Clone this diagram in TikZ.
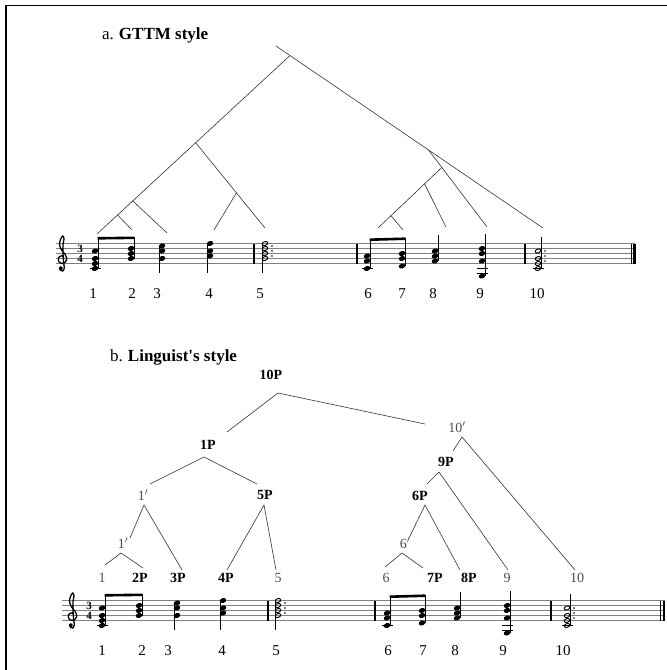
\documentclass[tikz,border=0pt]{standalone}
\usepackage{fontspec}
\setmainfont{Liberation Serif}
\usetikzlibrary{calc}
\tikzset{
  treeline/.style={line width=0.6pt, draw=black!80},
  staffline/.style={line width=0.7pt, draw=black!50},
  stemline/.style={line width=0.8pt},
  barline/.style={line width=1.1pt},
  ledger/.style={line width=0.7pt},
  blab/.style={inner sep=0pt, font=\fontsize{14}{16}\selectfont\bfseries},
  glab/.style={inner sep=0pt, text=black!70, font=\fontsize{14}{16}\selectfont},
  numlab/.style={inner sep=0pt, font=\fontsize{15}{18}\selectfont},
  titlelab/.style={inner sep=0pt, anchor=base west, font=\fontsize{17}{20}\selectfont},
  tsig/.style={inner sep=0pt, font=\fontsize{11}{11}\selectfont\bfseries}
}
\newcommand{\nhd}[2]{\fill[rotate around={20:(#1,{-2.5*(#2)})}] (#1,{-2.5*(#2)}) ellipse [x radius=3.4, y radius=2.4];}
\newcommand{\nho}[2]{\draw[line width=0.9pt,rotate around={20:(#1,{-2.5*(#2)})}] (#1,{-2.5*(#2)}) ellipse [x radius=2.9, y radius=1.9];}
\newcommand{\chordF}[2]{\foreach \k in {#2}{\nhd{#1}{\k}}}
\newcommand{\chordH}[2]{\foreach \k in {#2}{\nho{#1}{\k}}}
\newcommand{\ledg}[2]{\draw[ledger] ({#1-5.5},#2) -- ({#1+5.5},#2);}
\newcommand{\gclef}{%
  \draw[line width=1.3pt] plot[smooth, tension=0.6] coordinates {(0.35,0.05) (0.0,0.55) (-0.7,0.15) (-0.55,-0.75) (0.35,-0.95) (0.95,-0.15) (0.6,0.85) (-0.15,1.8) (-0.5,2.9) (-0.25,3.9) (0.15,4.5) (0.4,3.9) (0.2,2.8) (0.2,1.0) (0.35,-1.0) (0.45,-1.9) (0.15,-2.5) (-0.4,-2.25)};
  \fill (-0.25,-1.95) circle (2pt);}
\newcommand{\staffcontent}{%
  \foreach \i in {0,...,4}{\draw[staffline] (\psS,{-5*\i}) -- (\psE,{-5*\i});}
  \begin{scope}[shift={(\pcl,-5)}, x=5pt, y=5pt]\gclef\end{scope}
  \node[tsig] (tsA\pxA) at (\pts,-14.6) {3};
  \node[tsig] (tsB\pxA) at (\pts,-4.6) {4};
  \chordF{\pxA}{-2,0,2,5}\ledg{\pxA}{5}
  \draw[stemline] (\pxA+3.1,5) -- (\pxA+3.1,-26.5);
  \chordF{\pxB}{2,4,6}
  \draw[stemline] (\pxB+3.1,-5) -- (\pxB+3.1,-27);
  \draw[line width=2.6pt] (\pxA+2.7,-25.2) -- (\pxB+3.5,-25.7);
  \chordF{\pxC}{2,5,7}
  \draw[stemline] (\pxC-3.1,-17.5) -- (\pxC-3.1,9.5);
  \chordF{\pxD}{3,5,8}
  \draw[stemline] (\pxD-3.1,-20) -- (\pxD-3.1,9.5);
  \draw[barline] (\pbA,0) -- (\pbA,-20);
  \chordH{\pxE}{2,4,6,8}
  \draw[stemline] (\pxE-2.9,-20) -- (\pxE-2.9,9.5);
  \foreach \k in {3,5,7}{\fill (\pxE+7,{-2.5*\k}) circle (0.9pt);}
  \draw[barline] (\pbB,0) -- (\pbB,-20);
  \chordF{\pxF}{-2,1,3}\ledg{\pxF}{5}
  \draw[stemline] (\pxF+3.1,5) -- (\pxF+3.1,-25);
  \chordF{\pxG}{-1,2,4}
  \draw[stemline] (\pxG+3.1,2.5) -- (\pxG+3.1,-26);
  \draw[line width=2.6pt] (\pxF+2.7,-23.8) -- (\pxG+3.5,-24.8);
  \chordF{\pxH}{1,3,5}
  \draw[stemline] (\pxH+3.1,-2.5) -- (\pxH+3.1,-28.5);
  \chordF{\pxI}{-5,1,4,6}\ledg{\pxI}{5}\ledg{\pxI}{10}
  \draw[stemline] (\pxI+3.1,12.5) -- (\pxI+3.1,-29.5);
  \draw[barline] (\pbC,0) -- (\pbC,-20);
  \chordH{\pxJ}{-2,0,2,5}\ledg{\pxJ}{5}
  \draw[stemline] (\pxJ+2.9,5) -- (\pxJ+2.9,-26.5);
  \foreach \k in {1,3,5}{\fill (\pxJ+7,{-2.5*\k}) circle (0.9pt);}
  \draw[line width=0.9pt] (\pfA,0) -- (\pfA,-20);
  \draw[line width=2.2pt] (\pfA+3.5,0) -- (\pfA+3.5,-20);
}
\begin{document}
\begin{tikzpicture}[x=1pt,y=-1pt]
\useasboundingbox (0,0) rectangle (667,670);
\draw[line width=1.8pt] (6,670) -- (6,5.5) -- (667,5.5);

\node[titlelab] (ta) at (102,39.5) {a.\hspace{5pt}\textbf{GTTM style}};

\coordinate (atop) at (276,46);
\coordinate (aroot) at (290,55.5);
\coordinate (a1) at (97,234);
\coordinate (a2) at (132,230);
\coordinate (a3) at (167,233);
\coordinate (a4) at (214,230);
\coordinate (a5) at (265,228);
\coordinate (a6) at (378,228);
\coordinate (a7) at (403,230);
\coordinate (a8) at (446,227);
\coordinate (a9) at (487,227);
\coordinate (a10) at (543,228);
\coordinate (j1P) at ($(aroot)!0.4888!(a1)$);
\coordinate (j3) at ($(aroot)!0.8146!(a1)$);
\coordinate (j2) at ($(aroot)!0.8933!(a1)$);
\coordinate (j45) at ($(j1P)!0.588!(a5)$);
\coordinate (j9) at ($(atop)!0.5714!(a10)$);
\coordinate (j6) at ($(j9)!0.2267!(a9)$);
\coordinate (j8) at ($(j6)!0.2712!(a6)$);
\coordinate (j7) at ($(j6)!0.7966!(a6)$);

\draw[treeline] (atop) -- (a10);
\draw[treeline] (aroot) -- (a1);
\draw[treeline] (j1P) -- (a5);
\draw[treeline] (j45) -- (a4);
\draw[treeline] (j3) -- (a3);
\draw[treeline] (j2) -- (a2);
\draw[treeline] (j9) -- (a9);
\draw[treeline] (j6) -- (a6);
\draw[treeline] (j8) -- (a8);
\draw[treeline] (j7) -- (a7);

\begin{scope}[shift={(0,263.5)}]
  \def\psS{56}\def\psE{635}\def\pcl{62}\def\pts{80}
  \def\pxA{95}\def\pxB{131}\def\pxC{162}\def\pxD{210}\def\pxE{265}
  \def\pxF{367}\def\pxG{402}\def\pxH{435}\def\pxI{482}\def\pxJ{538}
  \def\pbA{254}\def\pbB{357}\def\pbC{525}\def\pfA{631}
  \staffcontent
\end{scope}

\foreach \t/\x in {1/93,2/132,3/157,4/209,5/260,6/368,7/402,8/433,9/480,10/537}{
  \node[numlab] (na\t) at (\x,293.5) {\t};
}

\node[titlelab] (tb) at (110,361.5) {b.\hspace{5pt}\textbf{Linguist\textquotesingle s style}};

\node[blab] (n10P) at (271,375) {10P};
\node[glab] (n10pr) at (457,427) {10$'$};
\node[blab] (n9P) at (446,462) {9P};
\node[blab] (n6P) at (420,496) {6P};
\node[glab] (n6pr) at (405,543) {6$'$};
\node[blab] (n1P) at (208,445) {1P};
\node[glab] (n1pr) at (143,495) {1$'$};
\node[blab] (n5P) at (265,495) {5P};
\node[glab] (n1prb) at (123,543) {1$'$};

\node[glab] (l1) at (102,578) {1};
\node[blab] (l2) at (140,578) {2P};
\node[blab] (l3) at (178,578) {3P};
\node[blab] (l4) at (226,578) {4P};
\node[glab] (l5) at (278,578) {5};
\node[glab] (l6) at (386,578) {6};
\node[blab] (l7) at (435,578) {7P};
\node[blab] (l8) at (469,578) {8P};
\node[glab] (l9) at (507,578) {9};
\node[glab] (l10) at (577,578) {10};

\coordinate (b10Pa) at (278,393);
\coordinate (b1Pt) at (227,432);
\coordinate (b10prt) at (425,424);
\coordinate (b10pra) at (462,437);
\coordinate (b9Pt) at (453,451);
\coordinate (b10t) at (575,570);
\coordinate (b9Pa) at (439,472);
\coordinate (b6Pt) at (427,484);
\coordinate (b9t) at (508,570);
\coordinate (b6Pa) at (425,505);
\coordinate (b6prt) at (409,538);
\coordinate (b8Pt) at (460,570);
\coordinate (b6pra) at (402,553);
\coordinate (b6t) at (385,567);
\coordinate (b7Pt) at (423,568);
\coordinate (b1Pa) at (204,457);
\coordinate (b1prt) at (150,484);
\coordinate (b5Pt) at (257,484);
\coordinate (b1pra) at (144,505);
\coordinate (b1prbt) at (130,538);
\coordinate (b3Pt) at (182,570);
\coordinate (b5Pa) at (264,505);
\coordinate (b4Pt) at (227,570);
\coordinate (b5t) at (276,570);
\coordinate (b1prba) at (121,553);
\coordinate (b1t) at (105,565);
\coordinate (b2Pt) at (143,568);

\draw[treeline] (b1Pt) -- (b10Pa) -- (b10prt);
\draw[treeline] (b9Pt) -- (b10pra) -- (b10t);
\draw[treeline] (b6Pt) -- (b9Pa) -- (b9t);
\draw[treeline] (b6prt) -- (b6Pa) -- (b8Pt);
\draw[treeline] (b6t) -- (b6pra) -- (b7Pt);
\draw[treeline] (b1prt) -- (b1Pa) -- (b5Pt);
\draw[treeline] (b1prbt) -- (b1pra) -- (b3Pt);
\draw[treeline] (b4Pt) -- (b5Pa) -- (b5t);
\draw[treeline] (b1t) -- (b1prba) -- (b2Pt);

\begin{scope}[shift={(0,620.5)}]
  \def\psS{62}\def\psE{665}\def\pcl{72}\def\pts{89}
  \def\pxA{102}\def\pxB{139}\def\pxC{177}\def\pxD{223}\def\pxE{278}
  \def\pxF{387}\def\pxG{422}\def\pxH{457}\def\pxI{507}\def\pxJ{567}
  \def\pbA{268}\def\pbB{375}\def\pbC{551}\def\pfA{660.5}
  \staffcontent
\end{scope}

\foreach \t/\x in {1/102,2/142,3/168,4/222,5/276,6/388,7/423,8/455,9/503,10/563}{
  \node[numlab] (nb\t) at (\x,651) {\t};
}
\end{tikzpicture}
\end{document}
